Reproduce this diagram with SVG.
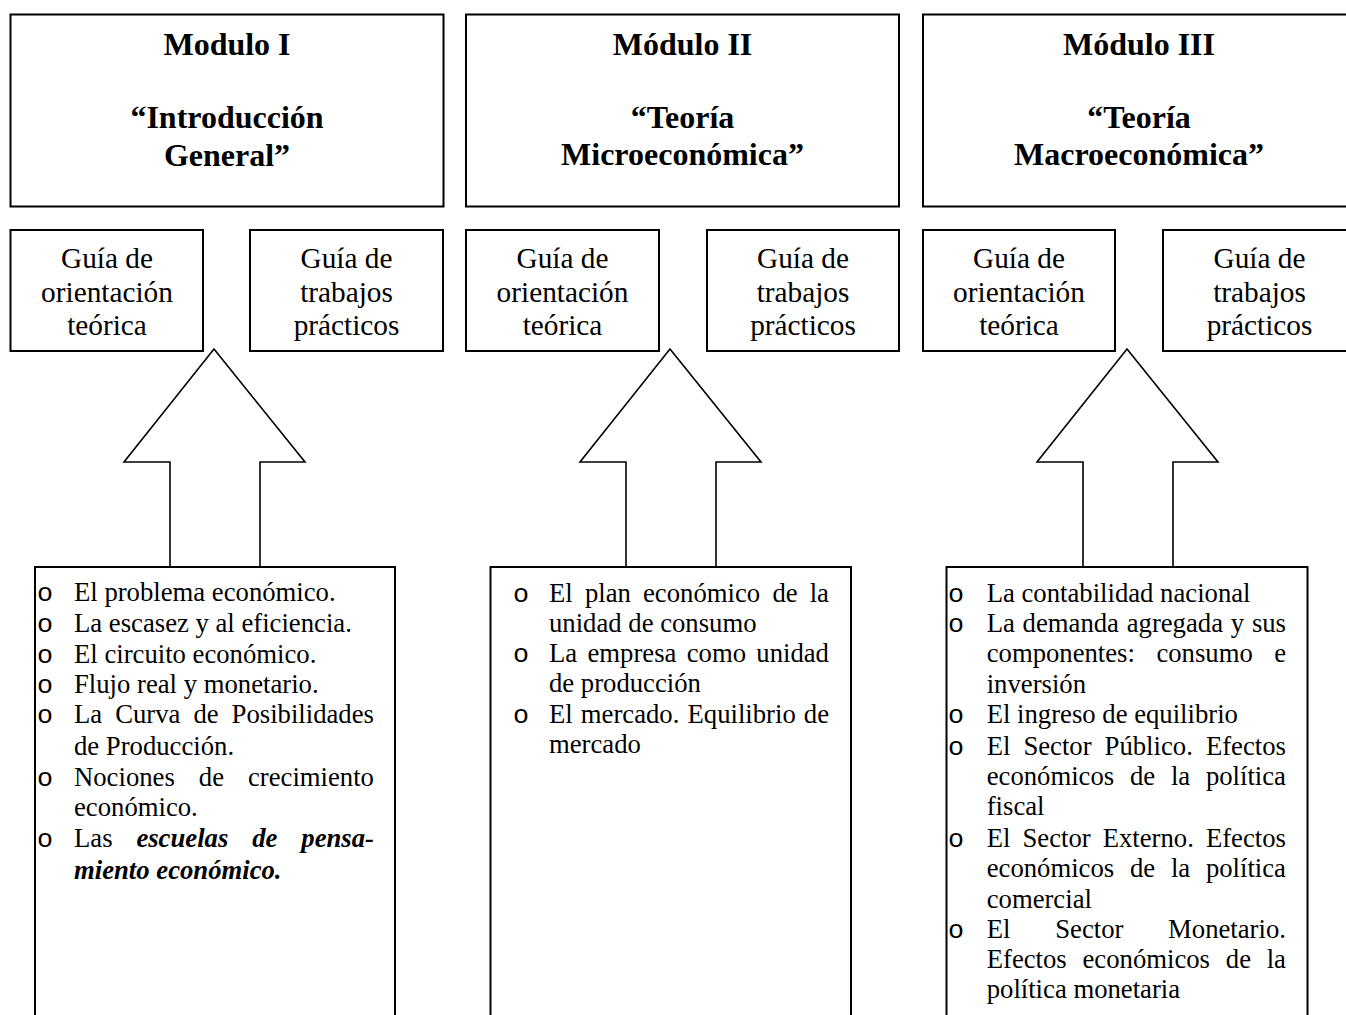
<svg xmlns="http://www.w3.org/2000/svg" width="1346" height="1015" viewBox="0 0 1346 1015">
<style>
.box{fill:#fff;stroke:#000;stroke-width:2}
.arrow{fill:#fff;stroke:#000;stroke-width:1.6;stroke-linejoin:miter}
.title{font-family:"Liberation Serif","Times New Roman",serif;font-size:32px;font-weight:bold;text-anchor:middle;fill:#000}
.guide{font-family:"Liberation Serif","Times New Roman",serif;font-size:29.3px;text-anchor:middle;fill:#000}
.item{font-family:"Liberation Serif","Times New Roman",serif;font-size:26.7px;fill:#000}
.bul{font-family:"Liberation Mono","Courier New",monospace;font-size:26.7px;fill:#000}
.bi{font-weight:bold;font-style:italic}
</style>
<rect width="1346" height="1015" fill="#fff"/>

<g id="connectors">
<polygon class="arrow" points="214,349 305,462 260,462 260,567 170,567 170,462 124,462"/>
<polygon class="arrow" points="670,349 761,462 716,462 716,567 626,567 626,462 580,462"/>
<polygon class="arrow" points="1127,349 1218,462 1173,462 1173,567 1083,567 1083,462 1037,462"/>
</g>

<g id="mod1">
<rect class="box" x="10.5" y="14.5" width="433" height="192"/>
<text class="title" x="227" y="55">Modulo I</text>
<text class="title" x="227" y="128">“Introducción</text>
<text class="title" x="227" y="166">General”</text>
</g>
<g id="mod2">
<rect class="box" x="466" y="14.5" width="433" height="192"/>
<text class="title" x="682.5" y="55">Módulo II</text>
<text class="title" x="682.5" y="128">“Teoría</text>
<text class="title" x="682.5" y="165">Microeconómica”</text>
</g>
<g id="mod3">
<rect class="box" x="923" y="14.5" width="433" height="192"/>
<text class="title" x="1139" y="55">Módulo III</text>
<text class="title" x="1139" y="128">“Teoría</text>
<text class="title" x="1139" y="165">Macroeconómica”</text>
</g>

<g id="guia1a">
<rect class="box" x="10.5" y="230" width="192.5" height="121"/>
<text class="guide" x="107" y="268">Guía de</text>
<text class="guide" x="107" y="302">orientación</text>
<text class="guide" x="107" y="335">teórica</text>
</g>
<g id="guia1b">
<rect class="box" x="250" y="230" width="193" height="121"/>
<text class="guide" x="346.5" y="268">Guía de</text>
<text class="guide" x="346.5" y="302">trabajos</text>
<text class="guide" x="346.5" y="335">prácticos</text>
</g>
<g id="guia2a">
<rect class="box" x="466" y="230" width="193" height="121"/>
<text class="guide" x="562.5" y="268">Guía de</text>
<text class="guide" x="562.5" y="302">orientación</text>
<text class="guide" x="562.5" y="335">teórica</text>
</g>
<g id="guia2b">
<rect class="box" x="707" y="230" width="192" height="121"/>
<text class="guide" x="803" y="268">Guía de</text>
<text class="guide" x="803" y="302">trabajos</text>
<text class="guide" x="803" y="335">prácticos</text>
</g>
<g id="guia3a">
<rect class="box" x="923" y="230" width="192" height="121"/>
<text class="guide" x="1019" y="268">Guía de</text>
<text class="guide" x="1019" y="302">orientación</text>
<text class="guide" x="1019" y="335">teórica</text>
</g>
<g id="guia3b">
<rect class="box" x="1163" y="230" width="193" height="121"/>
<text class="guide" x="1259.5" y="268">Guía de</text>
<text class="guide" x="1259.5" y="302">trabajos</text>
<text class="guide" x="1259.5" y="335">prácticos</text>
</g>

<g id="contenido1">
<rect class="box" x="35" y="567" width="360" height="470"/>
<g class="bul">
<text x="37" y="601">o</text>
<text x="37" y="632">o</text>
<text x="37" y="663">o</text>
<text x="37" y="693">o</text>
<text x="37" y="723">o</text>
<text x="37" y="786">o</text>
<text x="37" y="847">o</text>
</g>
<text class="item" x="74" y="601">El problema económico.</text>
<text class="item" x="74" y="632">La escasez y al eficiencia.</text>
<text class="item" x="74" y="663">El circuito económico.</text>
<text class="item" x="74" y="693">Flujo real y monetario.</text>
<text class="item" y="723"><tspan x="74">La</tspan><tspan x="115.2">Curva</tspan><tspan x="193.4">de</tspan><tspan x="231.6">Posibilidades</tspan></text>
<text class="item" x="74" y="755">de Producción.</text>
<text class="item" y="786"><tspan x="74">Nociones</tspan><tspan x="198.8">de</tspan><tspan x="248">crecimiento</tspan></text>
<text class="item" x="74" y="816">económico.</text>
<text class="item" y="847"><tspan x="74">Las</tspan><tspan class="bi" x="136.4">escuelas</tspan><tspan class="bi" x="252.2">de</tspan><tspan class="bi" x="301.3">pensa-</tspan></text>
<text class="item bi" x="74" y="879">miento económico.</text>
</g>

<g id="contenido2">
<rect class="box" x="490.5" y="567" width="360.5" height="470"/>
<g class="bul">
<text x="513" y="602">o</text>
<text x="513" y="662">o</text>
<text x="513" y="723">o</text>
</g>
<text class="item" y="602"><tspan x="549">El</tspan><tspan x="584.9">plan</tspan><tspan x="643">económico</tspan><tspan x="772.4">de</tspan><tspan x="809.7">la</tspan></text>
<text class="item" x="549" y="632">unidad de consumo</text>
<text class="item" y="662"><tspan x="549">La</tspan><tspan x="587.5">empresa</tspan><tspan x="686.7">como</tspan><tspan x="756.3">unidad</tspan></text>
<text class="item" x="549" y="692">de producción</text>
<text class="item" y="723"><tspan x="549">El</tspan><tspan x="580.8">mercado.</tspan><tspan x="687.5">Equilibrio</tspan><tspan x="803.8">de</tspan></text>
<text class="item" x="549" y="753">mercado</text>
</g>

<g id="contenido3">
<rect class="box" x="946.5" y="567" width="361" height="470"/>
<g class="bul">
<text x="948" y="602">o</text>
<text x="948" y="632">o</text>
<text x="948" y="723">o</text>
<text x="948" y="755">o</text>
<text x="948" y="847">o</text>
<text x="948" y="938">o</text>
</g>
<text class="item" x="986.7" y="602">La contabilidad nacional</text>
<text class="item" y="632"><tspan x="986.7">La</tspan><tspan x="1022.6">demanda</tspan><tspan x="1126.7">agregada</tspan><tspan x="1230.8">y</tspan><tspan x="1251.9">sus</tspan></text>
<text class="item" y="662"><tspan x="986.7">componentes:</tspan><tspan x="1156.4">consumo</tspan><tspan x="1274.2">e</tspan></text>
<text class="item" x="986.7" y="693">inversión</text>
<text class="item" x="986.7" y="723">El ingreso de equilibrio</text>
<text class="item" y="755"><tspan x="986.7">El</tspan><tspan x="1023.4">Sector</tspan><tspan x="1104.6">Público.</tspan><tspan x="1205.9">Efectos</tspan></text>
<text class="item" y="785"><tspan x="986.7">económicos</tspan><tspan x="1130">de</tspan><tspan x="1170.9">la</tspan><tspan x="1205.9">política</tspan></text>
<text class="item" x="986.7" y="815">fiscal</text>
<text class="item" y="847"><tspan x="986.7">El</tspan><tspan x="1022.5">Sector</tspan><tspan x="1102.7">Externo.</tspan><tspan x="1205.9">Efectos</tspan></text>
<text class="item" y="877"><tspan x="986.7">económicos</tspan><tspan x="1130">de</tspan><tspan x="1170.9">la</tspan><tspan x="1205.9">política</tspan></text>
<text class="item" x="986.7" y="908">comercial</text>
<text class="item" y="938"><tspan x="986.7">El</tspan><tspan x="1055.2">Sector</tspan><tspan x="1168.1">Monetario.</tspan></text>
<text class="item" y="968"><tspan x="986.7">Efectos</tspan><tspan x="1082.5">económicos</tspan><tspan x="1225.8">de</tspan><tspan x="1266.7">la</tspan></text>
<text class="item" x="986.7" y="998">política monetaria</text>
</g>
</svg>
